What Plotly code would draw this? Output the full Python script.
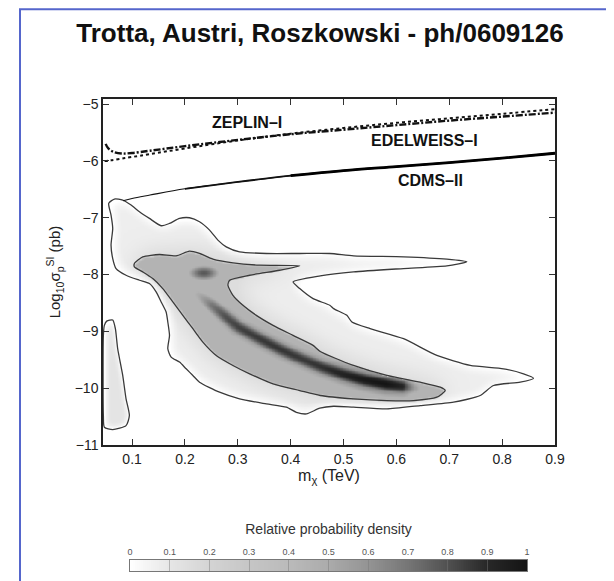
import numpy as np
import plotly.graph_objects as go

# ---------------- data ----------------
x_ticks = [0.1, 0.2, 0.3, 0.4, 0.5, 0.6, 0.7, 0.8, 0.9]
y_ticks = [-11, -10, -9, -8, -7, -6, -5]
cb_ticks = [0, 0.1, 0.2, 0.3, 0.4, 0.5, 0.6, 0.7, 0.8, 0.9, 1]

# outer (95%) contour of main region
outer_x = [0.0558, 0.0665, 0.0823, 0.0981, 0.1139, 0.1328, 0.155, 0.1708, 0.1897, 0.2087, 0.2276,
           0.2466, 0.2623, 0.2781, 0.3034, 0.354, 0.4171, 0.474, 0.5189, 0.6135, 0.6955, 0.7333,
           0.6955, 0.6135, 0.5189, 0.4559, 0.4045, 0.4171, 0.4424, 0.474, 0.4811, 0.5063, 0.5158,
           0.5504, 0.6135, 0.6765, 0.7396, 0.8026, 0.8405, 0.8594, 0.8342, 0.7837, 0.7585, 0.7081,
           0.645, 0.582, 0.5189, 0.4811, 0.455, 0.4298, 0.4108, 0.3918, 0.354, 0.3034, 0.2655,
           0.2276, 0.215, 0.2023, 0.1897, 0.1739, 0.1676, 0.1708, 0.1676, 0.1644, 0.155, 0.1455,
           0.1328, 0.1139, 0.0886, 0.0697, 0.0634, 0.0602, 0.0634, 0.0602]
outer_y = [-6.747, -6.671, -6.688, -6.776, -6.894, -7.012, -7.141, -7.1, -7.012, -7.0, -7.071,
           -7.218, -7.394, -7.512, -7.6, -7.629, -7.629, -7.629, -7.671, -7.688, -7.729, -7.776,
           -7.847, -7.894, -7.953, -8.024, -8.129, -8.247, -8.424, -8.541, -8.6, -8.718, -8.835,
           -8.953, -9.129, -9.424, -9.6, -9.659, -9.747, -9.824, -9.894, -9.953, -10.129, -10.247,
           -10.306, -10.365, -10.335, -10.318, -10.353, -10.453, -10.424, -10.335, -10.276, -10.188,
           -10.071, -9.894, -9.776, -9.659, -9.541, -9.453, -9.306, -9.071, -8.835, -8.659, -8.482,
           -8.306, -8.159, -8.1, -8.012, -7.894, -7.718, -7.482, -7.188, -6.953]

# inner (68%) contour
inner_x = [0.1044, 0.1202, 0.1518, 0.1834, 0.2087, 0.2276, 0.2529, 0.2908, 0.3413, 0.4171,
           0.3792, 0.3224, 0.2845, 0.2813, 0.2908, 0.3097, 0.335, 0.3666, 0.4045, 0.4424,
           0.4559, 0.5189, 0.582, 0.645, 0.6829, 0.6923, 0.6765, 0.6324, 0.582, 0.5189, 0.4559,
           0.4171, 0.3666, 0.3224, 0.2908, 0.2592, 0.2339, 0.215, 0.196, 0.1771, 0.1581,
           0.1392, 0.1202, 0.1044]
inner_y = [-7.806, -7.688, -7.647, -7.671, -7.588, -7.629, -7.729, -7.794, -7.835, -7.847,
           -7.924, -8.012, -8.1, -8.188, -8.365, -8.541, -8.718, -8.894, -9.071, -9.247,
           -9.353, -9.6, -9.776, -9.894, -9.982, -10.041, -10.159, -10.218, -10.218, -10.188, -10.129,
           -10.041, -9.924, -9.747, -9.6, -9.424, -9.188, -8.953, -8.718, -8.482, -8.247,
           -8.071, -7.953, -7.865]

# small low-mass island
column_x = [0.052, 0.0634, 0.0684, 0.0728, 0.0823, 0.0886, 0.0949, 0.0886, 0.0634, 0.0476,
            0.0457, 0.0457, 0.0476]
column_y = [-8.82, -8.80, -8.953, -9.306, -9.776, -10.188, -10.482, -10.659, -10.729, -10.688,
            -10.482, -9.071, -8.894]

# dark ridge of highest density
ridge_x = [0.225, 0.25, 0.275, 0.30, 0.34, 0.38, 0.42, 0.46, 0.50, 0.54, 0.58, 0.61, 0.635]
ridge_y = [-8.35, -8.53, -8.72, -8.92, -9.12, -9.31, -9.48, -9.63, -9.75, -9.85, -9.92, -9.96, -9.99]
ridge_level = [0.5, 0.7, 0.8, 0.84, 0.86, 0.87, 0.86, 0.88, 0.93, 0.98, 1.0, 0.92, 0.55]

blob_x, blob_y, blob_level = 0.235, -7.965, 0.78
inner_level = 0.45
halo_far = 0.07
halo_near = 0.15
column_level = 0.11

# experimental limits
zeplin_x = [0.05, 0.055, 0.065, 0.08, 0.1, 0.134, 0.2, 0.3, 0.4, 0.5, 0.6, 0.7, 0.8, 0.9]
zeplin_y = [-5.70, -5.78, -5.84, -5.87, -5.86, -5.82, -5.74, -5.63, -5.53, -5.45, -5.37, -5.29, -5.22, -5.15]
edel_x = [0.048, 0.06, 0.08, 0.1, 0.134, 0.2, 0.3, 0.4, 0.5, 0.6, 0.7, 0.8, 0.9]
edel_y = [-6.0, -5.99, -5.96, -5.93, -5.88, -5.78, -5.64, -5.52, -5.42, -5.33, -5.25, -5.17, -5.09]
cdms_x = [0.083, 0.1, 0.134, 0.2, 0.3, 0.4, 0.5, 0.6, 0.7, 0.8, 0.9]
cdms_y = [-6.70, -6.66, -6.60, -6.49, -6.37, -6.26, -6.17, -6.10, -6.03, -5.95, -5.865]

labels = ["ZEPLIN–I", "EDELWEISS–I", "CDMS–II"]
label_x = [0.318, 0.654, 0.664]
label_y = [-5.324, -5.635, -6.353]

# ---------------- layout geometry (page pixels of the reference) ----------------
W, H = 614, 581
OFF = 8  # default page margin of the html body; figure is placed at (8, 8)
PL, PR, PT, PB = 103, 555, 99, 445
CBL, CBR, CBT, CBB = 130, 527, 560, 571
X0, X1 = 0.045, 0.9
Y0, Y1 = -11.0, -4.91


def fx(p):
    return (p - OFF) / W


def fy(p):
    return 1 - (p - OFF) / H


# ---------------- density map built from the traced shapes ----------------
nx, ny = 300, 240
gx = np.linspace(X0, X1, nx)
gy = np.linspace(Y0, Y1, ny)
GX, GY = np.meshgrid(gx, gy)
sx = (PR - PL) / (X1 - X0)
sy = (PB - PT) / (Y1 - Y0)
UX = (GX - X0) * sx
UY = (GY - Y0) * sy
dxp = (PR - PL) / (nx - 1)
dyp = (PB - PT) / (ny - 1)


def inside(xs, ys):
    xs = np.asarray(xs, float)
    ys = np.asarray(ys, float)
    res = np.zeros(GX.shape, bool)
    n = len(xs)
    for i in range(n):
        x1, y1 = xs[i], ys[i]
        x2, y2 = xs[(i + 1) % n], ys[(i + 1) % n]
        if y1 == y2:
            continue
        cond = (y1 > GY) != (y2 > GY)
        xint = x1 + (GY - y1) * (x2 - x1) / (y2 - y1)
        res ^= cond & (GX < xint)
    return res.astype(float)


def kern(sig):
    r = int(np.ceil(3 * sig))
    t = np.arange(-r, r + 1)
    k = np.exp(-t ** 2 / (2 * sig ** 2))
    return k / k.sum()


def blur(a, sig_px):
    kx = kern(sig_px / dxp)
    ky = kern(sig_px / dyp)
    a = np.apply_along_axis(lambda r: np.convolve(r, kx, mode="same"), 1, a)
    a = np.apply_along_axis(lambda c: np.convolve(c, ky, mode="same"), 0, a)
    return a


A = inside(inner_x, inner_y)
B = inside(outer_x, outer_y)
C = inside(column_x, column_y)

core = inner_level * blur(A, 1.2)
b_in = np.clip((blur(B, 6) - 0.5) * 2.2, 0, 1)
near = np.clip(blur(A, 12) * 2.0, 0, 1)
halo = b_in * (halo_far + (halo_near - halo_far) * near)
col = column_level * np.clip((blur(C, 4) - 0.5) * 2.2, 0, 1)

rx = (np.asarray(ridge_x) - X0) * sx
ry = (np.asarray(ridge_y) - Y0) * sy
rl = np.asarray(ridge_level)
ridge = np.zeros(GX.shape)
broad = np.zeros(GX.shape)
for i in range(len(rx) - 1):
    ax_, ay_, bx_, by_ = rx[i], ry[i], rx[i + 1], ry[i + 1]
    vx, vy = bx_ - ax_, by_ - ay_
    t = np.clip(((UX - ax_) * vx + (UY - ay_) * vy) / (vx * vx + vy * vy), 0, 1)
    d2 = (UX - ax_ - t * vx) ** 2 + (UY - ay_ - t * vy) ** 2
    lev = rl[i] + t * (rl[i + 1] - rl[i])
    ridge = np.maximum(ridge, lev * np.exp(-d2 / (2 * 7.5 ** 2)))
    broad = np.maximum(broad, 0.74 * lev * np.exp(-d2 / (2 * 13.0 ** 2)))

bx0 = (blob_x - X0) * sx
by0 = (blob_y - Y0) * sy
blob = blob_level * np.exp(-((UX - bx0) ** 2 / (2 * 15.0 ** 2) + (UY - by0) ** 2 / (2 * 7.0 ** 2)))

z = np.maximum.reduce([core, halo, col, ridge * A, broad * A, blob])
z = np.round(z, 3)

gray_scale = [[0.0, "#ffffff"], [0.1, "#e6e6e6"], [0.2, "#d4d4d4"], [0.3, "#c6c6c6"],
              [0.4, "#bababa"], [0.5, "#ababab"], [0.6, "#949494"], [0.7, "#767676"],
              [0.8, "#505050"], [0.9, "#282828"], [1.0, "#141414"]]

fig = go.Figure()
fig.add_trace(go.Heatmap(x=gx, y=gy, z=z, zmin=0, zmax=1, colorscale=gray_scale,
                         zsmooth="best", showscale=False, hoverinfo="skip"))

contour_line = dict(color="#3a3a3a", width=1.3, shape="spline", smoothing=0.6)
for cx, cy in [(outer_x, outer_y), (inner_x, inner_y), (column_x, column_y)]:
    fig.add_trace(go.Scatter(x=list(cx) + [cx[0]], y=list(cy) + [cy[0]], mode="lines",
                             line=contour_line, hoverinfo="skip", showlegend=False))

fig.add_trace(go.Scatter(x=zeplin_x, y=zeplin_y, mode="lines", showlegend=False,
                         line=dict(color="#111", width=2.4, dash="7px,2px,2px,2px", shape="spline")))
fig.add_trace(go.Scatter(x=edel_x, y=edel_y, mode="lines", showlegend=False,
                         line=dict(color="#111", width=2.0, dash="dot", shape="spline")))
fig.add_trace(go.Scatter(x=cdms_x, y=cdms_y, mode="lines", showlegend=False,
                         line=dict(color="#111", width=1.1, shape="spline")))
fig.add_trace(go.Scatter(x=cdms_x[3:], y=cdms_y[3:], mode="lines", showlegend=False,
                         line=dict(color="#111", width=1.8, shape="spline")))
fig.add_trace(go.Scatter(x=cdms_x[5:], y=cdms_y[5:], mode="lines", showlegend=False,
                         line=dict(color="#000", width=2.8, shape="spline")))

for t_, lx, ly in zip(labels, label_x, label_y):
    fig.add_annotation(x=lx, y=ly, text="<b>" + t_ + "</b>", showarrow=False,
                       font=dict(size=16, color="#111", family="Liberation Sans, Arial"))

# colour bar as a small strip axis
cb_vals = np.linspace(0, 1, 201)
fig.add_trace(go.Heatmap(x=cb_vals, y=[0], z=[cb_vals], zmin=0, zmax=1, colorscale=gray_scale,
                         showscale=False, hoverinfo="skip", xaxis="x2", yaxis="y2"))

axis_font = dict(size=14, color="#222")
fig.update_layout(
    width=W, height=H, template="none",
    margin=dict(l=0, r=0, t=0, b=0),
    paper_bgcolor="white", plot_bgcolor="white",
    font=dict(family="Liberation Sans, Arial, sans-serif", color="#222"),
    showlegend=False,
    title=dict(text="<b>Trotta, Austri, Roszkowski - ph/0609126</b>", x=fx(320), xref="container",
               xanchor="center", y=fy(33), yref="container", yanchor="middle",
               font=dict(size=26, color="#111")),
    xaxis=dict(domain=[fx(PL), fx(PR)], range=[X0, X1], tickvals=x_ticks,
               ticktext=[str(v) for v in x_ticks], ticks="inside", ticklen=6, tickcolor="#333",
               showline=True, linecolor="#222", linewidth=1.5, mirror="ticks",
               showgrid=False, zeroline=False, automargin=False, tickfont=axis_font,
               title=dict(text="m<sub>χ</sub> (TeV)", font=dict(size=16, color="#222"), standoff=0)),
    yaxis=dict(domain=[fy(PB), fy(PT)], range=[Y0, Y1], tickvals=y_ticks,
               ticks="inside", ticklen=6, tickcolor="#333",
               showline=True, linecolor="#222", linewidth=1.5, mirror="ticks",
               showgrid=False, zeroline=False, automargin=False, tickfont=axis_font,
               title=dict(text="Log<sub>10</sub>σ<sub>p</sub><sup>SI</sup> (pb)",
                          font=dict(size=15, color="#222"), standoff=10)),
    xaxis2=dict(domain=[fx(CBL), fx(CBR)], range=[0, 1], anchor="y2", side="top",
                tickvals=cb_ticks, ticktext=[str(v) for v in cb_ticks],
                ticks="inside", ticklen=11, tickcolor="rgba(120,120,120,0.45)",
                showline=True, linecolor="#777", linewidth=1, mirror=True,
                showgrid=False, zeroline=False, automargin=False,
                tickfont=dict(size=9, color="#555"),
                title=dict(text="Relative probability density", font=dict(size=14, color="#333"),
                           standoff=9)),
    yaxis2=dict(domain=[fy(CBB), fy(CBT)], range=[-0.5, 0.5], anchor="x2",
                showticklabels=False, ticks="", showline=True, linecolor="#777", mirror=True,
                showgrid=False, zeroline=False, automargin=False),
    shapes=[dict(type="rect", xref="paper", yref="paper", x0=fx(20), x1=fx(611),
                 y0=-0.05, y1=1 - 1.2 / H, line=dict(color="#5566cc", width=2),
                 fillcolor="rgba(0,0,0,0)", layer="above")],
)

fig.write_html("out.html")
